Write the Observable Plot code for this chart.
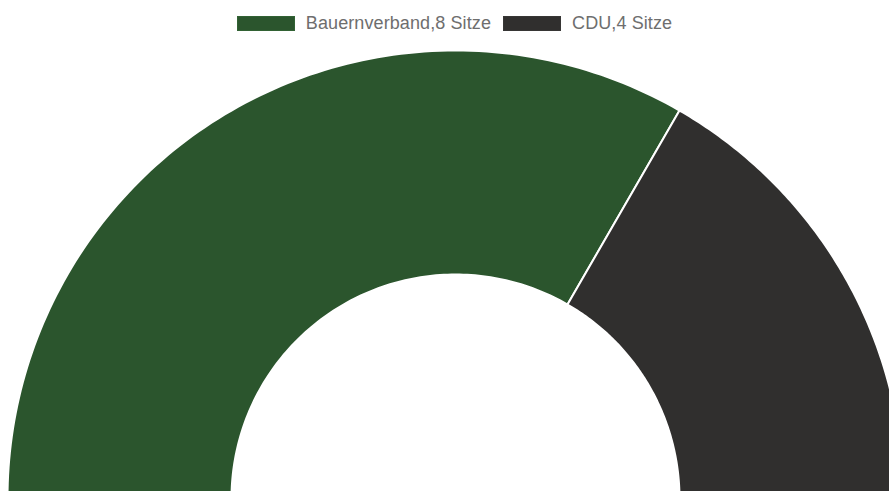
<!DOCTYPE html>
<html>
<head>
<meta charset="utf-8">
<script src="https://cdn.jsdelivr.net/npm/d3@7"></script>
<script src="https://cdn.jsdelivr.net/npm/@observablehq/plot@0.6"></script>
<style>
  html, body { margin: 0; padding: 0; background: #fff; overflow: hidden; width: 889px; height: 491px; }
  #legend { height: 40px; box-sizing: border-box; padding-top: 16px; padding-left: 20px; display: flex; justify-content: center; align-items: flex-start; font-family: "Liberation Sans", Arial, sans-serif; font-size: 18px; color: #6e6e6e; }
  .item { display: flex; align-items: center; margin: 0 6px; }
  .box { width: 56px; height: 13px; border: 1px solid; margin-right: 11px; }
  .lbl { line-height: 15px; letter-spacing: 0.1px; }
  #chart svg { overflow: visible; display: block; }
</style>
</head>
<body>
<div id="legend"></div>
<div id="chart"></div>
<script>
const parties = ["Bauernverband", "CDU"];
const seats = [8, 4];
const colors = ["#2b552d", "#302f2e"];
const labels = ["Bauernverband,8 Sitze", "CDU,4 Sitze"];

// legend
const legend = document.getElementById("legend");
parties.forEach((p, i) => {
  const it = document.createElement("div");
  it.className = "item";
  const b = document.createElement("div");
  b.className = "box";
  b.style.background = colors[i];
  b.style.borderColor = d3.color(colors[i]).brighter(0.4);
  const t = document.createElement("span");
  t.className = "lbl";
  t.textContent = labels[i];
  it.appendChild(b); it.appendChild(t);
  legend.appendChild(it);
});

// half-donut geometry via d3.pie
const pie = d3.pie().sort(null).startAngle(-Math.PI / 2).endAngle(Math.PI / 2);
const arcs = pie(seats);
const inner = 0.5, outer = 1, N = 120;
const slices = arcs.map((a, i) => {
  const pts = [];
  for (let k = 0; k <= N; k++) {
    const t = a.startAngle + (a.endAngle - a.startAngle) * k / N;
    pts.push({x: outer * Math.sin(t), y: outer * Math.cos(t), party: parties[i]});
  }
  for (let k = N; k >= 0; k--) {
    const t = a.startAngle + (a.endAngle - a.startAngle) * k / N;
    pts.push({x: inner * Math.sin(t), y: inner * Math.cos(t), party: parties[i]});
  }
  return pts;
});

const W = 889, H = 451;
const cx = 455, cy = 458, R = 448;
const chart = Plot.plot({
  width: W,
  height: H,
  margin: 0,
  x: {domain: [-1, 1], range: [cx - R, cx + R], axis: null},
  y: {domain: [0, 1], range: [cy, cy - R], axis: null},
  marks: slices.map((pts, i) =>
    Plot.line(pts, {x: "x", y: "y", fill: colors[i], stroke: "white", strokeWidth: 2, curve: "linear-closed"})
  )
});
document.getElementById("chart").appendChild(chart);
</script>
</body>
</html>
